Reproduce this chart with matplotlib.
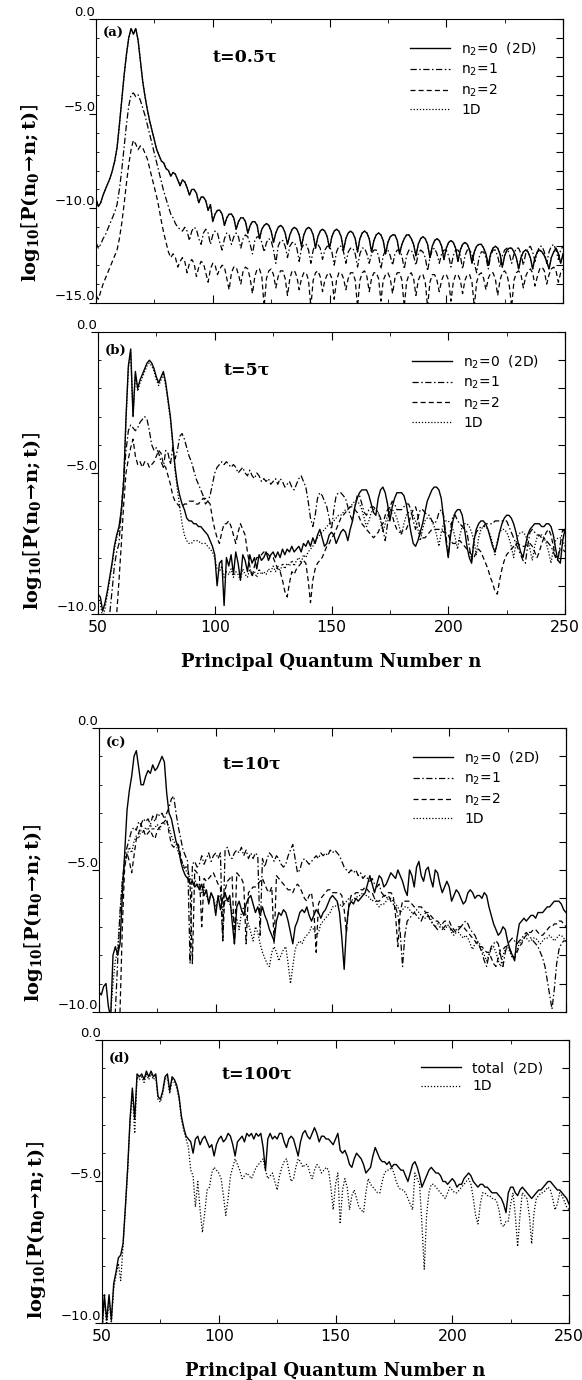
import numpy as np
import matplotlib
matplotlib.use("Agg")
import matplotlib.pyplot as plt
from matplotlib.ticker import MultipleLocator, FuncFormatter

plt.rcParams["font.family"] = ["DejaVu Sans"]
plt.rcParams["mathtext.fontset"] = "custom"
plt.rcParams["mathtext.rm"] = "DejaVu Sans"
plt.rcParams["mathtext.it"] = "DejaVu Sans:italic"
plt.rcParams["mathtext.bf"] = "DejaVu Serif:bold"

# principal quantum number grid
N = np.arange(50, 251)

# ---- panel (a), t = 0.5 tau ----
A_N2_0 = [
    -9.5, -9.9, -9.7, -9.3, -9.0, -8.7, -8.4, -8.0, -7.5, -6.8,
    -5.6, -4.3, -3.0, -1.9, -1.0, -0.5, -0.8, -0.5, -1.1, -2.2,
    -3.3, -4.1, -4.8, -5.4, -5.9, -6.4, -6.9, -7.2, -7.5, -7.6,
    -7.9, -8.0, -8.3, -8.1, -8.2, -8.5, -8.8, -8.5, -8.6, -8.9,
    -9.3, -9.0, -9.0, -9.2, -9.7, -9.4, -9.4, -9.6, -10.1, -9.8,
    -10.7, -10.3, -10.1, -10.1, -10.3, -10.9, -10.5, -10.3, -10.3, -10.5,
    -11.1, -10.7, -10.5, -10.5, -10.7, -11.3, -10.9, -10.7, -10.7, -10.9,
    -11.6, -11.1, -10.9, -10.8, -10.9, -11.2, -11.8, -11.3, -11.0, -10.9,
    -11.0, -11.3, -11.9, -11.4, -11.1, -11.0, -11.1, -11.4, -12.0, -11.4,
    -11.1, -11.0, -11.1, -11.4, -12.1, -11.5, -11.2, -11.1, -11.2, -11.5,
    -12.1, -11.5, -11.2, -11.1, -11.2, -11.5, -12.2, -11.6, -11.3, -11.2,
    -11.3, -11.6, -12.3, -11.6, -11.3, -11.2, -11.3, -11.6, -12.3, -11.7,
    -11.4, -11.3, -11.4, -11.7, -12.4, -11.8, -11.5, -11.4, -11.4, -11.7,
    -12.4, -11.9, -11.6, -11.4, -11.4, -11.6, -11.9, -12.5, -11.9, -11.6,
    -11.5, -11.6, -11.9, -12.6, -12.0, -11.7, -11.6, -11.7, -12.0, -12.7,
    -12.1, -11.8, -11.7, -11.8, -12.1, -12.8, -12.2, -11.9, -11.8, -11.9,
    -12.2, -12.9, -12.3, -12.0, -11.9, -11.9, -12.1, -12.4, -13.0, -12.4,
    -12.1, -12.0, -12.1, -12.4, -13.1, -12.5, -12.2, -12.1, -12.1, -12.3,
    -12.6, -13.2, -12.6, -12.3, -12.2, -12.3, -12.6, -13.2, -12.6, -12.3,
    -12.2, -12.3, -12.5, -12.8, -13.2, -12.6, -12.3, -12.1, -12.4, -12.9,
    -12.4,
]
A_N2_1 = [
    -11.8, -12.1, -11.9, -11.6, -11.4, -11.1, -10.8, -10.5, -10.2, -9.8,
    -9.0, -8.0, -6.8, -5.6, -4.6, -4.0, -3.9, -4.1, -4.0, -4.3,
    -4.7, -5.1, -5.6, -6.1, -6.6, -7.1, -7.6, -8.1, -8.6, -9.1,
    -9.5, -9.9, -10.3, -10.5, -10.8, -11.0, -11.1, -11.2, -11.0, -11.2,
    -11.7, -11.2, -11.0, -11.1, -11.6, -11.9, -11.3, -11.1, -11.3, -11.9,
    -11.4, -11.2, -11.3, -11.8, -12.2, -11.6, -11.3, -11.4, -11.9, -11.5,
    -11.3, -11.5, -12.1, -11.6, -11.4, -11.5, -11.9, -12.4, -11.7, -11.5,
    -11.5, -11.8, -12.3, -11.8, -11.6, -11.7, -12.2, -12.9, -12.0, -11.7,
    -11.7, -12.0, -12.6, -12.0, -11.8, -11.8, -12.1, -12.8, -12.1, -11.9,
    -11.9, -12.2, -12.9, -12.2, -11.9, -11.9, -12.1, -12.7, -12.2, -12.0,
    -12.0, -12.3, -13.0, -12.3, -12.0, -12.0, -12.3, -12.9, -12.3, -12.1,
    -12.1, -12.4, -13.1, -12.4, -12.1, -12.1, -12.4, -12.9, -12.4, -12.2,
    -12.2, -12.5, -13.2, -12.5, -12.2, -12.2, -12.5, -13.0, -12.4, -12.2,
    -12.2, -12.5, -13.2, -12.5, -12.2, -12.2, -12.5, -13.0, -12.4, -12.2,
    -12.3, -12.6, -13.3, -12.6, -12.2, -12.1, -12.4, -12.9, -12.4, -12.2,
    -12.2, -12.5, -13.1, -12.5, -12.2, -12.2, -12.5, -13.2, -12.5, -12.2,
    -12.2, -12.4, -12.9, -13.4, -12.6, -12.3, -12.3, -12.6, -13.2, -12.5,
    -12.2, -12.2, -12.5, -13.1, -12.5, -12.2, -12.1, -12.4, -12.9, -12.4,
    -12.1, -12.1, -12.4, -13.0, -12.4, -12.1, -12.0, -12.3, -12.8, -12.3,
    -12.0, -12.0, -12.3, -12.9, -12.3, -12.0, -11.9, -12.2, -12.7, -12.2,
    -12.0,
]
A_N2_2 = [
    -14.6, -14.8, -14.4, -14.0, -13.7, -13.4, -13.1, -12.8, -12.5, -12.2,
    -11.6, -10.8, -9.8, -8.7, -7.7, -6.9, -6.4, -6.6, -6.9, -6.7,
    -6.8, -7.1, -7.4, -7.9, -8.4, -8.9, -9.4, -10.0, -10.7, -11.3,
    -11.8, -12.3, -12.6, -12.4, -12.6, -13.1, -12.8, -12.6, -12.8, -13.4,
    -12.9, -12.7, -12.9, -13.6, -13.1, -12.8, -12.9, -13.4, -13.9, -13.2,
    -12.9, -13.0, -13.5, -13.2, -13.0, -13.1, -13.7, -14.3, -13.4, -13.1,
    -13.1, -13.5, -14.0, -13.3, -13.1, -13.2, -13.7, -14.5, -13.6, -13.2,
    -13.2, -13.6, -15.2, -13.7, -13.3, -13.2, -13.5, -14.2, -13.6, -13.3,
    -13.3, -13.7, -14.6, -13.7, -13.3, -13.3, -13.6, -14.3, -13.7, -13.4,
    -13.4, -13.8, -15.2, -13.8, -13.4, -13.3, -13.6, -14.4, -13.8, -13.5,
    -13.4, -13.7, -14.8, -13.8, -13.4, -13.4, -13.7, -14.3, -13.7, -13.4,
    -13.4, -13.8, -15.2, -13.8, -13.4, -13.3, -13.6, -14.4, -13.7, -13.4,
    -13.4, -13.7, -14.9, -13.8, -13.5, -13.4, -13.7, -14.5, -13.7, -13.4,
    -13.4, -13.8, -15.2, -13.9, -13.5, -13.4, -13.7, -14.6, -13.8, -13.5,
    -13.5, -13.9, -15.2, -13.9, -13.5, -13.5, -13.8, -14.4, -13.8, -13.5,
    -13.5, -13.8, -14.9, -13.9, -13.5, -13.5, -13.8, -14.5, -13.8, -13.5,
    -13.5, -13.9, -15.2, -13.9, -13.5, -13.4, -13.7, -14.3, -13.7, -13.4,
    -13.4, -13.7, -14.6, -13.8, -13.4, -13.3, -13.5, -14.1, -15.2, -13.8,
    -13.4, -13.3, -13.5, -14.2, -13.6, -13.3, -13.2, -13.4, -14.1, -13.6,
    -13.2, -13.1, -13.3, -14.0, -13.5, -13.2, -13.1, -13.3, -13.9, -13.4,
    -13.2,
]

# ---- panel (b), t = 5 tau ----
B_N2_0 = [
    -9.3, -9.4, -9.9, -9.6, -9.2, -8.7, -8.2, -7.6, -7.2, -6.9,
    -6.3, -5.3, -3.0, -1.2, -0.6, -3.0, -1.4, -2.0, -1.7, -1.5,
    -1.3, -1.1, -1.0, -1.1, -1.3, -1.6, -1.8, -1.6, -1.4, -1.8,
    -2.4, -3.0, -3.9, -4.8, -5.4, -5.8, -6.1, -6.3, -6.6, -6.7,
    -6.7, -6.8, -6.8, -6.9, -6.9, -7.0, -7.1, -7.2, -7.4, -7.6,
    -7.9, -9.0, -8.2, -8.1, -9.7, -8.0, -8.3, -7.9, -8.6, -7.8,
    -8.2, -8.8, -7.9, -8.1, -8.5, -7.9, -8.2, -8.0, -8.4, -7.9,
    -8.1, -8.0, -7.8, -8.1, -7.9, -7.8, -8.0, -7.8, -8.0, -7.7,
    -7.9, -7.7, -7.8, -7.6, -7.8, -7.7, -7.6, -7.8, -7.5, -7.6,
    -7.4, -7.6, -7.3, -7.5, -7.2, -7.0, -7.3, -7.6, -7.5, -7.2,
    -7.1, -7.2, -7.5, -7.3, -7.1, -7.0, -7.1, -7.4, -7.0, -6.7,
    -6.2, -5.9, -5.7, -5.6, -5.6, -5.6, -5.8, -6.1, -6.4, -6.5,
    -5.9, -5.6, -5.5, -5.7, -6.1, -6.7, -6.2, -5.9, -5.7, -5.7,
    -5.7, -5.8, -6.1, -6.6, -7.1, -7.5, -7.6, -7.4, -7.1, -6.8,
    -6.4, -6.0, -5.8, -5.6, -5.5, -5.5, -5.6, -5.9, -6.6, -7.4,
    -8.0, -7.2, -6.7, -6.4, -6.3, -6.3, -6.5, -7.0, -7.6, -8.0,
    -8.2, -7.4, -7.0, -6.8, -6.7, -6.7, -6.8, -7.0, -7.3, -7.6,
    -7.8, -7.5, -7.1, -6.8, -6.6, -6.5, -6.5, -6.6, -6.8, -7.1,
    -7.5, -7.8, -8.0, -7.6, -7.2, -7.0, -6.9, -6.8, -6.8, -6.8,
    -6.9, -6.9, -6.8, -6.8, -6.9, -7.2, -7.7, -8.1, -8.2, -7.4,
    -7.0,
]
B_N2_1 = [
    -10.5, -10.5, -10.5, -10.5, -10.5, -10.0, -9.2, -8.3, -7.8, -7.5,
    -6.3, -5.2, -4.2, -3.5, -3.3, -3.4, -3.5, -3.4, -3.2, -3.1,
    -3.0, -3.1, -3.5, -4.0, -4.2, -4.1, -4.3, -4.6, -4.8, -4.2,
    -4.3, -4.7, -4.1, -4.5, -4.2, -3.7, -3.6, -3.8, -4.1, -4.4,
    -4.6, -4.9, -5.2, -5.4, -5.6, -5.8, -6.1, -6.0, -5.8, -5.4,
    -5.0, -4.8, -4.7, -4.6, -4.7, -4.6, -4.7, -4.8, -4.7, -4.8,
    -5.0, -4.9, -4.8, -5.0, -5.1, -4.9, -5.1, -5.2, -5.0, -5.1,
    -5.3, -5.2, -5.3, -5.2, -5.4, -5.3, -5.2, -5.4, -5.2, -5.3,
    -5.5, -5.4, -5.3, -5.5, -5.6, -5.4, -5.2, -5.1, -5.3, -5.5,
    -6.0, -6.6, -6.9, -6.5, -5.9, -5.7, -5.8, -6.0, -6.2, -6.6,
    -7.0, -6.3, -5.8, -5.7, -5.7, -5.8, -5.9, -6.2, -6.5, -6.7,
    -6.2, -5.8, -5.8, -6.1, -6.4, -6.5, -6.3, -6.2, -6.2, -6.3,
    -6.4, -6.6, -7.0, -7.4, -6.8, -6.2, -6.0, -6.1, -6.3, -6.3,
    -6.3, -6.2, -6.1, -6.1, -6.3, -6.7, -7.0, -6.6, -6.3, -6.3,
    -6.4, -6.5, -6.5, -6.7, -6.8, -6.7, -6.4, -6.3, -6.5, -7.2,
    -8.0, -7.0, -6.5, -6.5, -6.7, -6.8, -6.9, -7.0, -7.1, -7.6,
    -8.1, -7.4, -7.1, -7.0, -6.9, -6.9, -6.8, -6.8, -6.8, -6.8,
    -6.7, -6.7, -6.7, -6.7, -6.7, -6.7, -6.9, -7.1, -7.3, -7.5,
    -7.7, -7.9, -8.1, -8.2, -7.6, -7.1, -7.0, -7.1, -7.2, -7.2,
    -7.3, -7.3, -7.4, -7.5, -7.6, -7.8, -8.0, -8.1, -7.5, -7.0,
    -7.1,
]
B_N2_2 = [
    -10.5, -10.5, -10.5, -10.5, -10.5, -10.5, -10.5, -10.5, -10.0, -8.8,
    -7.5, -6.1, -5.0, -4.5, -4.1, -3.8, -4.4, -4.7, -4.6, -4.8,
    -4.6, -4.6, -4.8, -4.7, -4.6, -4.4, -4.2, -4.3, -4.7, -4.8,
    -5.1, -5.4, -5.8, -6.0, -6.1, -6.2, -6.2, -6.1, -6.1, -6.0,
    -6.0, -6.0, -6.1, -6.1, -6.0, -5.9, -5.9, -6.0, -6.1, -6.6,
    -7.0, -7.3, -7.5, -7.1, -6.8, -6.8, -6.7, -6.9, -7.2, -7.5,
    -7.1, -6.8, -7.0, -7.2, -7.8, -8.3, -8.7, -8.3, -8.0, -8.0,
    -7.9, -7.8, -7.8, -7.9, -8.0, -8.0, -8.2, -8.4, -8.5, -8.8,
    -9.2, -9.4, -8.9, -8.5, -8.6, -8.4, -8.3, -8.2, -8.1, -8.2,
    -8.8, -9.6, -8.8, -8.4, -8.2, -8.1, -8.0, -7.8, -7.6, -7.5,
    -7.3, -7.2, -7.0, -6.8, -6.6, -6.5, -6.4, -6.3, -6.2, -6.2,
    -6.3, -6.4, -6.6, -6.8, -6.9, -7.0, -7.1, -7.2, -7.3, -7.2,
    -7.1, -6.9, -6.8, -6.5, -6.3, -6.2, -6.5, -6.8, -7.0, -7.1,
    -7.1, -7.0, -7.0, -6.8, -6.5, -6.3, -6.2, -6.5, -7.1, -7.3,
    -7.3, -7.2, -7.1, -7.0, -7.0, -7.0, -7.0, -7.0, -7.1, -7.1,
    -7.2, -7.4, -7.5, -7.5, -7.4, -7.4, -7.5, -7.6, -7.7, -7.8,
    -7.9, -8.0, -7.8, -7.7, -7.8, -8.0, -8.2, -8.4, -8.7, -8.9,
    -9.2, -9.3, -8.8, -8.4, -8.1, -7.9, -7.8, -7.7, -7.6, -7.5,
    -7.5, -7.6, -7.6, -7.6, -7.5, -7.5, -7.6, -7.8, -8.0, -7.8,
    -7.5, -7.3, -7.1, -7.0, -7.2, -7.6, -8.0, -7.9, -7.7, -7.7,
    -7.8,
]
B_1D = [
    -9.4, -9.6, -10.2, -9.8, -9.3, -8.8, -8.3, -7.7, -7.3, -7.0,
    -6.4, -5.4, -3.1, -1.3, -0.7, -3.0, -1.5, -2.1, -1.8, -1.6,
    -1.4, -1.2, -1.1, -1.2, -1.4, -1.7, -1.9, -1.7, -1.5, -1.9,
    -2.5, -3.1, -4.0, -4.9, -5.6, -6.2, -6.8, -7.2, -7.4, -7.5,
    -7.5, -7.4, -7.4, -7.4, -7.5, -7.5, -7.5, -7.6, -7.7, -7.8,
    -8.0, -8.4, -8.5, -8.3, -8.7, -8.5, -8.6, -8.4, -8.7, -8.5,
    -8.6, -8.8, -8.4, -8.6, -8.7, -8.4, -8.6, -8.5, -8.7, -8.4,
    -8.6, -8.5, -8.6, -8.4, -8.5, -8.3, -8.5, -8.3, -8.5, -8.2,
    -8.4, -8.2, -8.3, -8.1, -8.3, -8.1, -8.0, -8.2, -7.9, -8.0,
    -7.8, -7.7, -7.6, -7.4, -7.3, -7.2, -7.1, -7.0, -6.9, -6.8,
    -6.8, -6.7, -6.6, -6.5, -6.5, -6.4, -6.3, -6.3, -6.2, -6.1,
    -6.0, -6.0, -6.1, -6.3, -6.6, -6.9, -6.7, -6.4, -6.3, -6.3,
    -6.4, -6.7, -7.1, -6.8, -6.5, -6.3, -6.3, -6.4, -6.6, -6.9,
    -7.2, -6.8, -6.5, -6.4, -6.4, -6.5, -6.7, -7.0, -7.4, -7.0,
    -6.7, -6.6, -6.6, -6.7, -6.9, -7.2, -7.6, -7.1, -6.8, -6.7,
    -6.7, -6.8, -7.0, -7.3, -7.7, -7.2, -6.9, -6.8, -6.8, -6.9,
    -7.1, -7.4, -7.9, -7.3, -7.0, -6.9, -6.9, -7.0, -7.2, -7.5,
    -7.9, -7.4, -7.1, -7.0, -7.0, -7.1, -7.3, -7.6, -8.0, -7.5,
    -7.2, -7.1, -7.1, -7.2, -7.4, -7.7, -8.1, -7.6, -7.3, -7.2,
    -7.2, -7.3, -7.5, -7.8, -8.2, -7.7, -7.4, -7.3, -7.3, -7.4,
    -7.6,
]

# ---- panel (c), t = 10 tau ----
C_N2_0 = [
    -9.3, -9.4, -9.1, -9.0, -9.8, -10.2, -8.0, -7.7, -8.0, -7.6,
    -5.9, -4.4, -2.9, -2.2, -1.7, -1.0, -0.8, -1.4, -2.0, -2.0,
    -1.7, -1.5, -1.6, -1.3, -1.5, -1.4, -1.2, -1.0, -1.2, -2.3,
    -3.0, -3.2, -3.6, -4.0, -4.2, -4.7, -5.0, -5.2, -5.3, -5.5,
    -5.4, -5.6, -5.5, -5.7, -5.5, -5.9, -5.7, -6.2, -5.8, -6.0,
    -6.6, -5.9, -6.4, -6.0, -5.8, -6.1, -5.9, -6.8, -7.6, -6.3,
    -6.1, -6.4, -6.6, -6.2, -6.0, -5.9, -6.2, -6.5, -6.3, -6.6,
    -6.3, -6.6, -6.8, -7.1, -7.3, -7.5, -6.8, -6.5, -6.6, -6.4,
    -6.5, -6.8, -7.2, -7.6, -7.0, -6.8, -6.5, -6.4, -6.5, -6.3,
    -6.6, -6.8, -6.6, -6.4, -6.5, -6.7, -6.5, -6.4, -6.2, -6.0,
    -5.9, -6.0, -6.1, -6.5, -7.4, -8.5, -7.0, -6.3, -6.1, -6.2,
    -6.0, -6.1, -6.0, -5.9, -5.8, -5.5, -5.2, -5.5, -5.8, -5.5,
    -5.2, -5.3, -5.6, -5.5, -5.3, -5.1, -5.2, -5.3, -5.0, -5.2,
    -5.4, -5.7, -5.9, -5.0, -5.2, -5.6, -4.9, -4.7, -5.2, -5.4,
    -5.0, -4.9, -5.3, -5.6, -5.0, -5.1, -5.5, -5.8, -5.6, -5.4,
    -5.6, -6.1, -5.9, -5.7, -5.8, -6.0, -6.2, -6.1, -5.8, -5.7,
    -5.8, -6.0, -5.9, -5.9, -6.0, -5.8, -5.9, -6.3, -6.6, -6.9,
    -7.1, -7.3, -7.2, -7.0, -7.1, -7.5, -7.8, -8.0, -8.2, -7.4,
    -6.9, -6.8, -6.7, -6.8, -6.7, -6.6, -6.6, -6.7, -6.5, -6.5,
    -6.5, -6.4, -6.3, -6.3, -6.2, -6.1, -6.1, -6.1, -6.2, -6.4,
    -6.5,
]
C_N2_1 = [
    -10.5, -10.5, -10.5, -10.5, -10.5, -10.5, -10.5, -10.0, -8.2, -6.5,
    -5.4, -4.6, -4.2, -3.9, -3.6, -3.5, -3.6, -3.3, -3.4, -3.2,
    -3.3, -3.2, -3.4, -3.1, -3.3, -3.0, -3.1, -3.0, -3.2, -3.0,
    -2.8, -2.5, -2.4, -3.0, -3.5, -3.9, -4.3, -4.5, -4.7, -8.3,
    -4.8, -4.7, -4.9, -4.8, -4.5, -4.8, -4.6, -4.4, -4.7, -4.5,
    -4.4, -4.6, -4.4, -7.5, -4.3, -4.2, -4.5, -4.6, -4.4, -4.3,
    -4.4, -4.2, -4.5, -4.3, -4.6, -4.4, -4.6, -4.4, -4.5, -7.3,
    -4.6, -4.9, -4.6, -4.4, -4.5, -4.7, -4.5, -4.6, -4.8, -4.9,
    -4.8, -4.5, -4.3, -4.1, -4.6, -5.1, -5.0, -4.7, -4.6, -4.7,
    -4.8, -4.7, -4.6, -4.5, -4.6, -4.4, -4.5, -4.4, -4.5, -4.3,
    -4.4, -4.3, -4.4, -4.5, -4.7, -4.9, -5.0, -5.1, -5.0, -5.1,
    -5.0, -5.2, -5.1, -5.3, -5.2, -5.3, -5.4, -5.3, -5.5, -5.6,
    -5.5, -5.8, -5.9, -6.0, -5.9, -6.1, -6.2, -6.3, -6.6, -7.2,
    -8.4, -7.3, -6.8, -6.7, -6.6, -6.5, -6.6, -6.7, -6.8, -6.6,
    -6.5, -6.6, -6.8, -6.9, -7.0, -7.1, -7.0, -7.1, -7.0, -6.9,
    -7.0, -7.1, -7.2, -7.1, -7.0, -7.0, -6.9, -6.8, -6.9, -7.1,
    -7.2, -7.3, -7.5, -7.7, -7.9, -8.2, -8.4, -8.0, -7.7, -7.6,
    -7.5, -7.6, -8.0, -8.4, -7.9, -7.6, -7.5, -7.4, -7.5, -7.6,
    -7.5, -7.4, -7.3, -7.2, -7.3, -7.4, -7.5, -7.6, -7.7, -7.9,
    -8.1, -8.4, -8.9, -9.4, -9.9, -9.2, -8.3, -7.8, -7.6, -7.5,
    -7.5,
]
C_N2_2 = [
    -10.5, -10.5, -10.5, -10.5, -10.5, -10.5, -10.5, -10.5, -10.5, -10.0,
    -7.0, -4.9, -4.4, -4.7, -5.1, -4.5, -3.9, -3.7, -3.4, -3.6,
    -3.8, -3.7, -3.6, -3.8, -3.9, -3.6, -3.5, -3.4, -3.3, -3.2,
    -3.7, -4.1, -4.2, -4.1, -4.1, -4.5, -4.9, -4.9, -4.9, -5.5,
    -8.3, -5.0, -5.1, -5.2, -7.0, -5.3, -5.4, -5.3, -5.2, -5.1,
    -5.3, -5.5, -5.6, -7.5, -5.7, -5.4, -5.3, -5.2, -7.6, -5.1,
    -5.2, -5.3, -5.5, -7.6, -5.8, -5.7, -5.6, -5.6, -5.5, -5.4,
    -5.3, -5.5, -5.7, -5.8, -5.6, -7.6, -5.2, -5.3, -5.4, -5.5,
    -5.6, -5.7, -5.7, -5.8, -5.6, -5.5, -5.6, -5.8, -6.0, -6.1,
    -5.9, -5.8, -6.4, -7.9, -6.2, -6.0, -5.9, -5.8, -5.7, -5.7,
    -5.8, -5.8, -5.8, -5.8, -5.9, -6.4, -7.2, -6.2, -5.9, -5.9,
    -5.8, -5.8, -5.7, -5.7, -5.6, -5.7, -5.8, -5.8, -6.0, -6.1,
    -6.1, -6.0, -5.9, -5.9, -5.8, -5.8, -5.9, -6.6, -7.7, -6.5,
    -6.1, -6.1, -6.1, -6.1, -6.2, -6.3, -6.3, -6.3, -6.3, -6.4,
    -6.5, -6.5, -6.6, -6.7, -6.8, -6.8, -6.9, -6.9, -6.8, -6.8,
    -6.8, -7.0, -7.1, -7.2, -7.1, -7.0, -7.0, -7.1, -7.2, -7.3,
    -7.4, -7.5, -7.6, -7.7, -7.7, -7.8, -7.9, -7.9, -8.1, -8.3,
    -8.4, -8.1, -7.8, -7.8, -7.7, -7.7, -7.8, -8.0, -8.1, -7.9,
    -7.7, -7.6, -7.4, -7.3, -7.2, -7.2, -7.1, -7.1, -7.2, -7.3,
    -7.3, -7.2, -7.1, -7.0, -7.0, -6.9, -6.9, -6.8, -6.8, -6.9,
    -7.0,
]
C_1D = [
    -10.5, -10.5, -10.5, -10.5, -10.5, -10.0, -9.0, -8.2, -7.8, -6.5,
    -5.4, -4.8, -4.5, -4.2, -4.4, -4.0, -3.8, -3.9, -3.6, -3.7,
    -3.5, -3.6, -3.4, -3.6, -3.5, -3.4, -3.6, -3.3, -3.4, -3.3,
    -3.5, -3.8, -4.0, -4.1, -4.4, -4.6, -4.8, -5.0, -5.1, -5.3,
    -5.4, -5.3, -5.6, -5.5, -5.8, -5.6, -5.9, -6.1, -5.8, -6.0,
    -6.3, -6.0, -5.9, -6.4, -6.1, -6.0, -6.2, -6.5, -6.9, -6.7,
    -7.1, -6.5, -6.3, -6.6, -6.9, -7.2, -7.5, -7.0, -7.2, -7.6,
    -7.9, -8.1, -8.3, -8.4, -7.9, -7.7, -7.9, -8.2, -8.0, -7.8,
    -7.7, -8.3, -9.0, -8.4, -7.8, -7.6, -7.5, -7.6, -7.4, -7.3,
    -7.2, -7.0, -7.1, -7.3, -7.2, -6.9, -6.8, -6.7, -6.6, -6.5,
    -6.3, -6.3, -6.2, -6.2, -6.3, -6.2, -6.1, -6.0, -6.1, -6.0,
    -6.0, -5.9, -5.9, -5.8, -5.9, -5.9, -6.0, -6.1, -6.0, -6.2,
    -6.3, -6.2, -6.2, -6.1, -6.0, -6.0, -6.1, -6.2, -6.3, -6.5,
    -6.4, -6.3, -6.3, -6.4, -6.5, -6.5, -6.4, -6.5, -6.6, -6.7,
    -6.7, -6.6, -6.7, -6.9, -7.0, -6.9, -6.9, -7.0, -7.1, -7.0,
    -7.0, -7.2, -7.3, -7.2, -7.2, -7.3, -7.4, -7.3, -7.4, -7.6,
    -7.8, -7.6, -7.5, -7.6, -7.8, -8.0, -8.2, -8.0, -7.8, -7.7,
    -7.9, -8.2, -8.4, -8.0, -7.8, -7.7, -7.9, -8.1, -8.0, -7.8,
    -7.6, -7.5, -7.4, -7.4, -7.5, -7.5, -7.4, -7.4, -7.5, -7.6,
    -7.5, -7.4, -7.4, -7.3, -7.4, -7.5, -7.4, -7.3, -7.3, -7.4,
    -7.5,
]

# ---- panel (d), t = 100 tau ----
D_TOTAL = [
    -10.2, -9.0, -9.9, -9.0, -9.9, -8.6, -8.2, -7.7, -7.6, -7.2,
    -5.9, -4.5, -2.8, -1.7, -2.8, -1.2, -1.3, -1.2, -1.4, -1.1,
    -1.3, -1.1, -1.3, -1.2, -2.0, -2.1, -1.8, -1.3, -1.2, -1.8,
    -1.3, -1.4, -1.6, -2.0, -2.7, -3.1, -3.4, -3.5, -3.6, -4.0,
    -3.5, -3.4, -3.7, -3.5, -3.4, -3.6, -3.8, -3.7, -4.1, -3.7,
    -3.5, -3.4, -3.6, -3.5, -3.3, -3.4, -3.7, -4.1, -3.6, -3.5,
    -3.4, -3.6, -3.3, -3.4, -3.3, -3.5, -3.3, -3.4, -3.3, -3.8,
    -4.6, -3.5, -3.3, -3.5, -3.4, -3.5, -3.3, -3.3, -3.6, -3.8,
    -3.5, -3.4, -3.5, -3.8, -4.1, -3.6, -3.3, -3.2, -3.4, -3.5,
    -3.3, -3.1, -3.3, -3.6, -3.4, -3.4, -3.5, -3.5, -3.6, -3.7,
    -3.5, -3.3, -3.9, -4.0, -3.9, -4.1, -4.4, -4.5, -4.2, -4.0,
    -4.1, -4.2, -4.4, -4.7, -4.6, -4.5, -4.1, -3.8, -4.0, -4.2,
    -4.3, -4.3, -4.4, -4.3, -4.5, -4.4, -4.4, -4.5, -4.6, -4.6,
    -4.8, -5.0, -4.7, -4.4, -4.3, -4.5, -4.8, -5.2, -5.0, -4.8,
    -4.6, -4.5, -4.6, -4.7, -4.7, -4.8, -5.0, -5.0, -5.1, -5.0,
    -4.9, -5.0, -5.2, -5.1, -5.1, -4.9, -4.8, -4.7, -4.8, -5.0,
    -5.1, -5.2, -5.1, -5.1, -5.2, -5.2, -5.3, -5.4, -5.4, -5.4,
    -5.5, -5.6, -5.8, -6.1, -5.4, -5.2, -5.2, -5.4, -5.5, -5.3,
    -5.2, -5.3, -5.4, -5.5, -5.6, -5.5, -5.4, -5.3, -5.3, -5.2,
    -5.1, -5.0, -5.0, -5.1, -5.2, -5.3, -5.3, -5.4, -5.5, -5.6,
    -5.8,
]
D_1D = [
    -10.3, -9.2, -10.1, -9.2, -10.0, -8.8, -8.3, -7.9, -8.5, -7.3,
    -6.0, -4.6, -2.9, -1.8, -3.3, -1.3, -1.4, -1.3, -1.5, -1.2,
    -1.4, -1.2, -1.4, -1.3, -2.1, -2.2, -1.9, -1.4, -1.3, -1.9,
    -1.4, -1.5, -1.7, -2.1, -2.8, -3.2, -3.5, -3.8, -4.6, -4.8,
    -5.9, -5.0, -6.0, -6.8, -6.1, -5.3, -5.2, -4.7, -4.5, -4.6,
    -4.7, -4.9, -5.5, -6.2, -5.6, -4.8, -4.5, -4.2, -4.4, -4.6,
    -4.9, -4.8, -4.7, -4.8, -4.9, -4.7, -4.5, -4.4, -4.3, -4.2,
    -4.6, -4.9, -4.8, -4.7, -5.0, -5.3, -4.8, -4.5, -4.3, -4.2,
    -4.6, -5.0, -4.9, -4.5, -4.2, -4.3, -4.5, -4.4, -4.4, -4.7,
    -4.9, -4.6, -4.4, -4.5, -4.7, -4.6, -4.5, -4.6, -5.2, -6.0,
    -5.1, -4.7, -6.5, -5.3, -4.9, -5.2, -6.0, -5.5, -5.3, -5.6,
    -5.9, -6.0, -6.1, -5.4, -4.9, -5.1, -5.2, -5.3, -5.4, -5.4,
    -5.0, -4.7, -4.6, -4.6, -4.5, -4.7, -5.0, -5.2, -5.3, -5.3,
    -5.4, -5.6, -5.8, -6.0, -4.7, -4.9, -5.1, -6.5, -8.1, -6.2,
    -5.4, -5.1, -5.1, -5.2, -5.3, -5.4, -5.5, -5.6, -5.4, -5.2,
    -5.3, -5.4, -5.4, -5.3, -5.2, -5.1, -5.0, -4.9, -5.1, -5.6,
    -6.2, -6.5, -5.8, -5.4, -5.4, -5.5, -5.5, -5.6, -5.6, -5.7,
    -6.0, -6.5, -6.6, -6.4, -6.4, -5.8, -5.4, -6.2, -7.3, -6.2,
    -5.4, -5.5, -5.6, -6.2, -7.2, -6.1, -5.6, -5.5, -5.4, -5.4,
    -5.3, -5.2, -5.3, -5.6, -6.0, -5.8, -5.4, -5.5, -5.7, -5.9,
    -6.0,
]

LABELS_4 = [r"n$_2$=0  (2D)", r"n$_2$=1", r"n$_2$=2", "1D"]
LABELS_2 = ["total  (2D)", "1D"]

STYLES = {
    "solid": dict(color="black", lw=1.0, ls="-"),
    "dashdot": dict(color="black", lw=0.9, ls=(0, (5, 2, 1.2, 2))),
    "dashed": dict(color="black", lw=0.9, ls=(0, (4, 2.5))),
    "dotted": dict(color="black", lw=0.9, ls=(0, (1, 1.5))),
}

SERIF_BOLD = dict(family="DejaVu Serif", weight="bold")
YLABEL = r"$\mathbf{log_{10}}\left[\mathbf{P(n_0\!\rightarrow\! n;t)}\right]$"


def ytick_fmt(v, pos):
    return f"{v + 0.0:.1f}".replace("-", "\u2212")


def setup_axes(ax, ymin, xlabels):
    ax.set_xlim(50, 250)
    ax.set_ylim(ymin, 0)
    ax.xaxis.set_major_locator(MultipleLocator(50))
    ax.xaxis.set_minor_locator(MultipleLocator(25))
    ax.yaxis.set_major_locator(MultipleLocator(5))
    ax.yaxis.set_minor_locator(MultipleLocator(1))
    ax.yaxis.set_major_formatter(FuncFormatter(ytick_fmt))
    ax.tick_params(axis="x", which="both", direction="in", top=True, bottom=True,
                   labelbottom=xlabels, labelsize=11.3, pad=4)
    ax.tick_params(axis="x", which="major", length=6)
    ax.tick_params(axis="x", which="minor", length=3)
    ax.tick_params(axis="y", which="major", direction="out", length=5,
                   pad=-4.5, labelsize=9.5, right=False)
    ax.tick_params(axis="y", which="minor", direction="in", length=2.5, right=False)
    for lab in ax.get_yticklabels():
        lab.set_va("bottom")
    sec = ax.secondary_yaxis("right")
    sec.yaxis.set_major_locator(MultipleLocator(1))
    sec.tick_params(direction="in", length=5, labelright=False)
    for sp in ax.spines.values():
        sp.set_linewidth(0.8)
    sec.spines["right"].set_linewidth(0.8)
    ax.set_ylabel(YLABEL, fontsize=14)


def add_texts(ax, tag, time_txt, tag_y, time_x, time_y):
    ax.text(0.015, tag_y, tag, transform=ax.transAxes, fontsize=9.5, va="center",
            **SERIF_BOLD)
    ax.text(time_x, time_y, time_txt, transform=ax.transAxes, fontsize=12.5,
            va="center", **SERIF_BOLD)


def add_legend(ax):
    ax.legend(loc="upper right", bbox_to_anchor=(0.945, 0.925), frameon=False,
              fontsize=10, handlelength=2.9, handletextpad=0.8, labelspacing=0.3,
              borderpad=0, borderaxespad=0)


fig = plt.figure(figsize=(5.82, 13.8), dpi=100)

ax_a = fig.add_axes([0.165, 0.7804, 0.8024, 0.2058])
ax_b = fig.add_axes([0.1684, 0.5551, 0.8024, 0.2043])
ax_c = fig.add_axes([0.1701, 0.2667, 0.8024, 0.2058])
ax_d = fig.add_axes([0.1753, 0.0413, 0.8024, 0.2051])

panels = [
    (ax_a, [A_N2_0, A_N2_1, A_N2_2, A_N2_0], -15, False),
    (ax_b, [B_N2_0, B_N2_1, B_N2_2, B_1D], -10, True),
    (ax_c, [C_N2_0, C_N2_1, C_N2_2, C_1D], -10, False),
]
style_order = ["solid", "dashdot", "dashed", "dotted"]

for ax, series, ymin, xl in panels:
    for ys, key, lab in zip(series, style_order, LABELS_4):
        ax.plot(N, ys, label=lab, **STYLES[key])
    setup_axes(ax, ymin, xl)
    add_legend(ax)

ax_d.plot(N, D_TOTAL, label=LABELS_2[0], **STYLES["solid"])
ax_d.plot(N, D_1D, label=LABELS_2[1], **STYLES["dotted"])
setup_axes(ax_d, -10, True)
add_legend(ax_d)

add_texts(ax_a, "(a)", "t=0.5\u03c4", 0.95, 0.25, 0.866)
add_texts(ax_b, "(b)", "t=5\u03c4", 0.936, 0.268, 0.865)
add_texts(ax_c, "(c)", "t=10\u03c4", 0.944, 0.265, 0.873)
add_texts(ax_d, "(d)", "t=100\u03c4", 0.936, 0.257, 0.88)

ax_a.yaxis.set_label_coords(-0.115, 0.39)
ax_b.yaxis.set_label_coords(-0.115, 0.33)
ax_c.yaxis.set_label_coords(-0.115, 0.35)
ax_d.yaxis.set_label_coords(-0.115, 0.33)

ax_b.set_xlabel("Principal Quantum Number n", fontsize=13, labelpad=13, **SERIF_BOLD)
ax_d.set_xlabel("Principal Quantum Number n", fontsize=13, labelpad=13, **SERIF_BOLD)

fig.savefig("out.png", dpi=100)
